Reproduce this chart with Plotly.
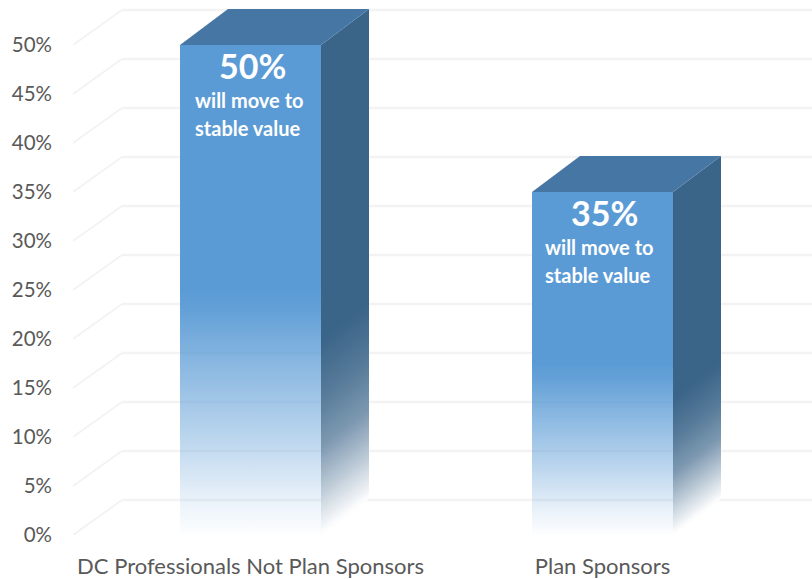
import plotly.graph_objects as go

# Survey results
categories = ["DC Professionals Not Plan Sponsors", "Plan Sponsors"]
values = [50, 35]
caption_lines = ["will move to", "stable value"]
y_ticks = [0, 5, 10, 15, 20, 25, 30, 35, 40, 45, 50]

# Pixel scale of the plot area, used to express the 3D offsets in axis units
PX_PER_X = 352.0
PX_PER_Y = 9.8
X_MIN = -177.5 / PX_PER_X
X_MAX = 561.5 / PX_PER_X
Y_MAX = 535 / PX_PER_Y

HALF_W = 70.5 / PX_PER_X
DEPTH_X = 48 / PX_PER_X
DEPTH_Y = 36 / PX_PER_Y
WALL_X = 49 / PX_PER_X
WALL_Y = 35 / PX_PER_Y

FRONT_RGB = (91, 155, 213)
SIDE_RGB = (58, 100, 136)
TOP_COLOR = "#4676a3"
GRID = "#f3f3f3"
TEXT = "#595959"
FONT = "Lato"
BANDS = 140

# Opacity along the height of a bar, from the floor (0) to its top (1)
FRONT_FADE = [(0.0, 0.01), (0.07, 0.13), (0.2, 0.42), (0.35, 0.72), (0.46, 0.95), (0.5, 1.0), (1.0, 1.0)]
SIDE_FADE = [(0.0, 0.0), (0.08, 0.3), (0.18, 0.66), (0.28, 0.85), (0.4, 1.0), (1.0, 1.0)]


def opacity_at(f, fade):
    for (f0, a0), (f1, a1) in zip(fade, fade[1:]):
        if f <= f1:
            return a0 + (a1 - a0) * (f - f0) / (f1 - f0)
    return 1.0


def over_white(rgb, a):
    return "rgb(%d,%d,%d)" % tuple(round(255 + (c - 255) * a) for c in rgb)


def rgba(rgb, a):
    return "rgba(%d,%d,%d,%.3f)" % (*rgb, a)


fig = go.Figure()

# Floor edges and back wall gridlines
for v in y_ticks:
    fig.add_trace(go.Scatter(
        x=[X_MIN, X_MIN + WALL_X], y=[v, v + WALL_Y], mode="lines",
        line=dict(color=GRID, width=2), hoverinfo="skip"))
    fig.add_trace(go.Scatter(
        x=[X_MIN + WALL_X, X_MAX], y=[v + WALL_Y, v + WALL_Y], mode="lines",
        line=dict(color=GRID, width=2.4), hoverinfo="skip"))

for i, v in enumerate(values):
    left, right = i - HALF_W, i + HALF_W

    # Side face: overlapping slanted bands painted top-down, so the fade follows the depth direction
    for b in range(BANDS):
        f = 1 - b / BANDS
        top = v * f
        low = v * max(f - 2 / BANDS, 0)
        fig.add_trace(go.Scatter(
            x=[right, right + DEPTH_X, right + DEPTH_X, right, right],
            y=[top, top + DEPTH_Y, low + DEPTH_Y, low, top],
            mode="lines", fill="toself", line=dict(width=0),
            fillcolor=over_white(SIDE_RGB, opacity_at(f - 0.5 / BANDS, SIDE_FADE)),
            hoverinfo="skip"))

    # Top face
    fig.add_trace(go.Scatter(
        x=[left, right, right + DEPTH_X, left + DEPTH_X, left],
        y=[v, v, v + DEPTH_Y, v + DEPTH_Y, v],
        mode="lines", fill="toself", line=dict(width=0),
        fillcolor=TOP_COLOR, hoverinfo="skip"))

    # Front face
    fig.add_trace(go.Scatter(
        x=[left, right, right, left, left],
        y=[0, 0, v, v, 0],
        mode="lines", fill="toself", line=dict(width=0),
        fillgradient=dict(
            type="vertical", start=0, stop=v,
            colorscale=[[f, rgba(FRONT_RGB, a)] for f, a in FRONT_FADE]),
        hoverinfo="skip"))

    # Value callout on the front face
    fig.add_annotation(
        x=i + 2 / PX_PER_X, y=v - 20 / PX_PER_Y, text=f"<b>{v}%</b>", showarrow=False,
        font=dict(family=FONT, size=34, color="white"), xanchor="center", yanchor="middle")
    for n, line in enumerate(caption_lines):
        fig.add_annotation(
            x=left + (13 if i == 0 else 11) / PX_PER_X,
            y=v - (54.5 + 28 * n) / PX_PER_Y,
            text=f"<b>{line}</b>", showarrow=False,
            font=dict(family=FONT, size=20, color="white"), xanchor="left", yanchor="middle")

fig.update_layout(
    width=812, height=579,
    margin=dict(l=73, r=0, t=0, b=44, pad=0),
    paper_bgcolor="white", plot_bgcolor="white",
    showlegend=False,
    xaxis=dict(
        range=[X_MIN, X_MAX], tickmode="array", tickvals=list(range(len(categories))),
        ticktext=categories, showgrid=False, zeroline=False, showline=False,
        ticks="", ticklabelstandoff=16, fixedrange=True,
        tickfont=dict(family=FONT, size=22, color=TEXT)),
    yaxis=dict(
        range=[0, Y_MAX], tickmode="array", tickvals=y_ticks,
        ticktext=[f"{v}%" for v in y_ticks], showgrid=False, zeroline=False, showline=False,
        ticks="", ticklabelstandoff=20, fixedrange=True,
        tickfont=dict(family=FONT, size=20.5, color=TEXT)),
)

fig.write_html("out.html", config=dict(displayModeBar=False))
